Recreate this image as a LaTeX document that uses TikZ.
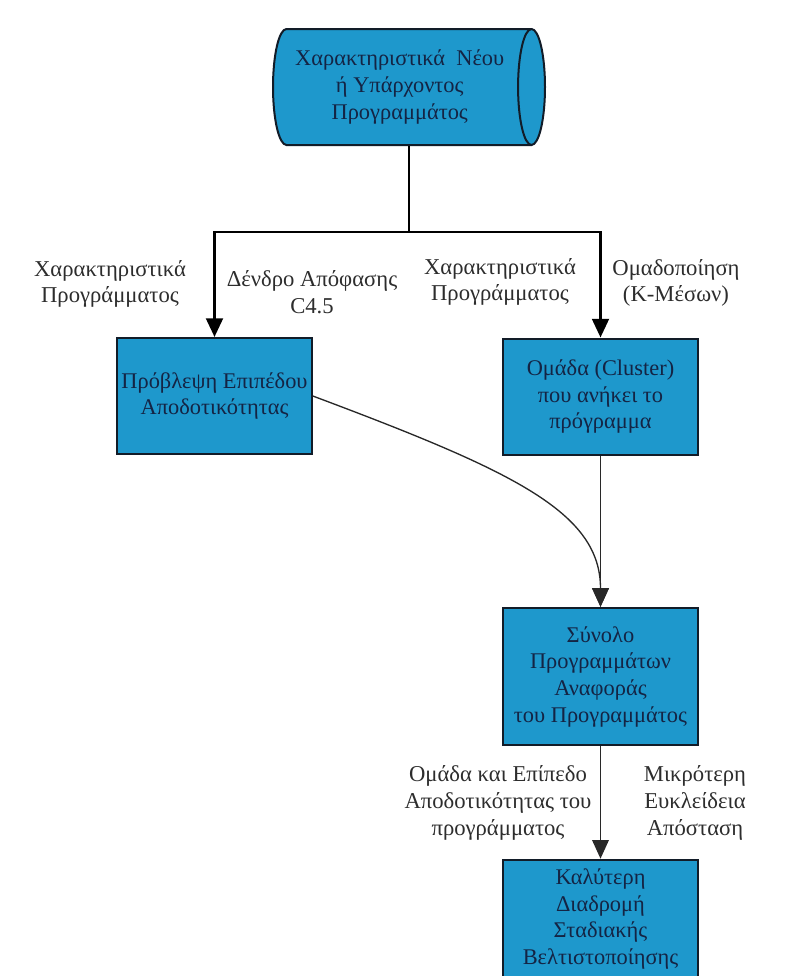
\documentclass[tikz,border=0pt]{standalone}
\usepackage{fontspec}
\setmainfont{Liberation Serif}
\usetikzlibrary{shapes.geometric,arrows.meta}

\tikzset{every picture/.style={line width=0.75pt}}
\tikzset{
  blk/.style={draw={rgb, 255:red, 18; green, 28; blue, 40}, fill={rgb, 255:red, 30; green, 152; blue, 204},
              line width=1.5pt, minimum width=146pt, align=center, inner sep=2pt,
              text={rgb, 255:red, 20; green, 36; blue, 68}, font=\fontsize{16.8}{20}\selectfont},
  drum/.style={blk, cylinder, aspect=0.34, minimum height=204pt, minimum width=87pt, anchor=shape center},
  lbl/.style={align=center, inner sep=0.75pt, text={rgb, 255:red, 45; green, 45; blue, 45},
              font=\fontsize{17}{20}\selectfont},
  heavy/.style={line width=2.2pt},
  thin/.style={line width=1pt, draw={rgb, 255:red, 40; green, 40; blue, 40}},
  tip/.style={-{Triangle[length=14pt,width=12.5pt]}}
}

\begin{document}
\begin{tikzpicture}[x=0.75pt, y=0.75pt, yscale=-1,xscale=1]

    \useasboundingbox (0,0) rectangle (808,976);

    % Input features
    \node [drum] (feat) at (409,87) {Χαρακτηριστικά\ \ Νέου\\ή Υπάρχοντος\\Προγραμμάτος};

    % Boxes
    \node [blk, minimum height=87pt]  (pred) at (214.5,396)  {Πρόβλεψη Επιπέδου\\Αποδοτικότητας};
    \node [blk, minimum height=87pt]  (clus) at (600.5,396.5) {Ομάδα (Cluster)\\που ανήκει το\\πρόγραμμα};
    \node [blk, minimum height=103pt] (refs) at (600.5,676.5) {Σύνολο\\Προγραμμάτων\\Αναφοράς\\του Προγραμμάτος};
    \node [blk, minimum height=89pt]  (best) at (600.5,919)   {Καλύτερη\\Διαδρομή\\Σταδιακής\\Βελτιστοποίησης};

    % Line Feat - split
    \coordinate (split) at (409,232);
    \draw [heavy] (feat.south -| split) -- (split);

    % Line split - Pred / Clus
    \draw [heavy, tip] (split) -| (pred.north);
    \draw [heavy, tip] (split) -| (clus.north);

    % Line Pred - Refs
    \draw [thin, tip] (pred.east) .. controls +(200,75) and +(0,-95) .. (refs.north);

    % Line Clus - Refs
    \draw [thin, tip] (clus.south) -- (refs.north);

    % Line Refs - Best
    \draw [thin, tip] (refs.south) -- (best.north);

    % Labels: split
    \node [lbl] (lblfa)   at (110,284) {Χαρακτηριστικά\\Προγράμματος};
    \node [lbl] (lbltree) at (312,292) {Δένδρο Απόφασης\\C4.5};
    \node [lbl] (lblfb)   at (500,282) {Χαρακτηριστικά\\Προγράμματος};
    \node [lbl] (lblkm)   at (676,283) {Ομαδοποίηση\\(Κ-Μέσων)};

    % Labels: Refs - Best
    \node [lbl] (lblgrp)  at (498,803) {Ομάδα και Επίπεδο\\Αποδοτικότητας του\\προγράμματος};
    \node [lbl] (lbldist) at (695,803) {Μικρότερη\\Ευκλείδεια\\Απόσταση};

\end{tikzpicture}
\end{document}
